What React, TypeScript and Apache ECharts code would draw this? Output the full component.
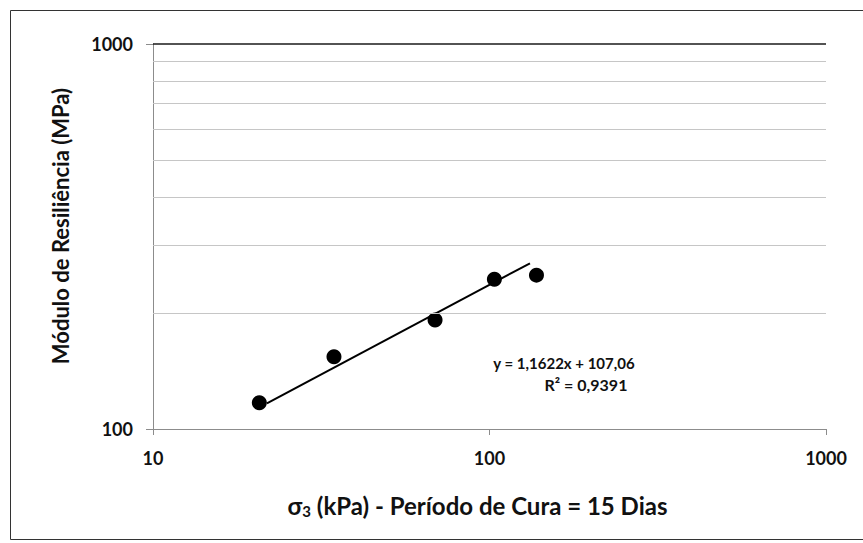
import React, { useEffect, useRef } from "react";
import * as echarts from "echarts";

const sigma3 = [20.7, 34.5, 68.9, 103.4, 137.9];
const modulus = [117, 154, 192, 245, 251];
const trendX = [21.8, 131.9];
const trendY = [116.6, 269.4];
const gridValues = [200, 300, 400, 500, 600, 700, 800, 900];
const topGridValue = 1000;
const equationText = "y = 1,1622x + 107,06";
const r2Text = "R² = 0,9391";
const xTitle = "σ{sub|3} (kPa) - Período de Cura = 15 Dias";
const yTitle = "Módulo de Resiliência (MPa)";

const FONT = "Lato, 'Open Sans', sans-serif";
const INK = "#111111";

export default function App() {
  const ref = useRef<HTMLDivElement>(null);
  useEffect(() => {
    if (!ref.current) return;
    const chart = echarts.init(ref.current, undefined, { renderer: "svg" });
    const markData: any[] = gridValues.map((v) => ({
      yAxis: v,
      lineStyle: { color: "#c6c6c6", width: 1, type: "solid" },
    }));
    markData.push({ yAxis: topGridValue, lineStyle: { color: "#1a1a1a", width: 1.5, type: "solid" } });
    chart.setOption({
      animation: false,
      backgroundColor: "#ffffff",
      textStyle: { fontFamily: FONT },
      grid: { left: 153, right: 37, top: 44, bottom: 114, containLabel: false },
      graphic: [
        {
          type: "rect",
          shape: { x: 10.5, y: 10.5, width: 880, height: 529 },
          style: { fill: "none", stroke: "#333333", lineWidth: 1 },
          silent: true,
        },
        {
          type: "text",
          x: 564,
          y: 363,
          style: {
            text: equationText,
            font: `bold 15px ${FONT}`,
            fill: INK,
            textAlign: "center",
            textVerticalAlign: "middle",
          },
        },
        {
          type: "text",
          x: 586,
          y: 384,
          style: {
            text: r2Text,
            font: `bold 16px ${FONT}`,
            fill: INK,
            textAlign: "center",
            textVerticalAlign: "middle",
          },
        },
        {
          type: "text",
          x: 60,
          y: 226,
          rotation: Math.PI / 2,
          style: {
            text: yTitle,
            font: `bold 22px ${FONT}`,
            fill: INK,
            textAlign: "center",
            textVerticalAlign: "middle",
          },
        },
      ],
      xAxis: {
        type: "log",
        logBase: 10,
        min: 10,
        max: 1000,
        name: xTitle,
        nameLocation: "middle",
        nameGap: 64,
        nameTextStyle: {
          fontFamily: FONT,
          fontWeight: "bold",
          fontSize: 24,
          color: INK,
          padding: [0, 0, 0, -24],
          rich: {
            sub: { fontSize: 15, fontWeight: "bold", verticalAlign: "bottom", padding: [10, 0, 0, 0], fontFamily: FONT, color: INK },
          },
        },
        axisLine: { show: true, lineStyle: { color: "#8c8c8c", width: 1 } },
        axisTick: { show: true, length: 6, lineStyle: { color: "#8c8c8c" } },
        axisLabel: {
          fontFamily: FONT,
          fontWeight: "bold",
          fontSize: 18,
          color: INK,
          margin: 20,
          formatter: (v: number) => String(Math.round(v)),
        },
        splitLine: { show: false },
        minorTick: { show: false },
      },
      yAxis: {
        type: "log",
        logBase: 10,
        min: 100,
        max: 1000,
        axisLine: { show: true, lineStyle: { color: "#8c8c8c", width: 1 } },
        axisTick: { show: true, length: 7, lineStyle: { color: "#8c8c8c" } },
        axisLabel: {
          fontFamily: FONT,
          fontWeight: "bold",
          fontSize: 18,
          color: INK,
          margin: 20,
          formatter: (v: number) => String(Math.round(v)),
        },
        splitLine: { show: false },
      },
      series: [
        {
          type: "line",
          data: trendX.map((x, i) => [x, trendY[i]]),
          showSymbol: false,
          symbol: "none",
          lineStyle: { color: "#000000", width: 2 },
          silent: true,
          z: 3,
        },
        {
          type: "scatter",
          data: sigma3.map((x, i) => [x, modulus[i]]),
          symbol: "circle",
          symbolSize: 15,
          itemStyle: { color: "#000000", opacity: 1 },
          z: 4,
          markLine: {
            silent: true,
            symbol: ["none", "none"],
            label: { show: false },
            data: markData,
          },
        },
      ],
    });
    return () => chart.dispose();
  }, []);
  return <div ref={ref} style={{ position: "fixed", left: 0, top: 0, width: 863, height: 543 }} />;
}
